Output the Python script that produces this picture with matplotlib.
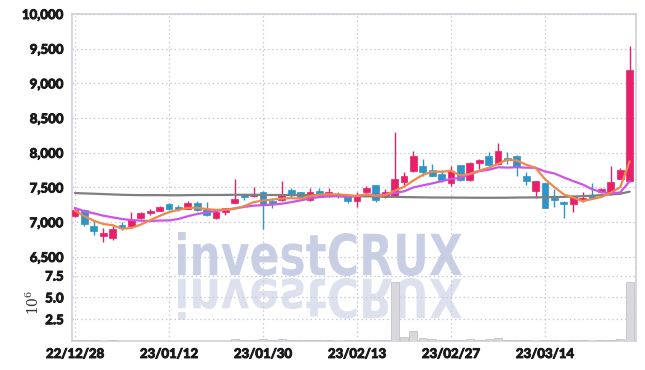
import numpy as np
import pandas as pd
import matplotlib
matplotlib.use('Agg')
import matplotlib.pyplot as plt
from matplotlib.textpath import TextPath
from matplotlib.patches import PathPatch
from matplotlib.font_manager import FontProperties
from matplotlib.transforms import Affine2D
import matplotlib.ticker as mticker
import matplotlib.patheffects as pe

# ---------------- data ----------------
tick_idx = [0, 10, 20, 30, 40, 50]
tick_labels = ['22/12/28', '23/01/12', '23/01/30', '23/02/13', '23/02/27', '23/03/14']

opens = [7095, 7180, 6940, 6800, 6770, 6960, 6940, 7060, 7140, 7165,
         7260, 7215, 7190, 7275, 7190, 7065, 7150, 7275, 7400, 7380,
         7430, 7305, 7325, 7470, 7430, 7325, 7445, 7380, 7410, 7375,
         7300, 7430, 7535, 7370, 7375, 7585, 7735, 7815, 7745, 7690,
         7565, 7825, 7615, 7850, 7950, 7840, 7925, 7960, 7660, 7455,
         7565, 7345, 7280, 7265, 7330, 7370, 7430, 7440, 7625, 7600]
highs = [7200, 7185, 7020, 6910, 6940, 7010, 7140, 7150, 7190, 7230,
         7270, 7245, 7300, 7310, 7285, 7175, 7210, 7620, 7410, 7505,
         7450, 7345, 7590, 7490, 7440, 7490, 7490, 7490, 7430, 7380,
         7430, 7525, 7540, 7480, 8300, 7720, 8025, 7910, 7840, 7745,
         7815, 7830, 7870, 7910, 8010, 8140, 8010, 7965, 7720, 7600,
         7570, 7480, 7310, 7390, 7430, 7565, 7490, 7805, 7780, 9540]
lows = [7080, 6950, 6810, 6710, 6750, 6890, 6930, 7050, 7100, 7160,
        7180, 7165, 7185, 7160, 7090, 7050, 7100, 7270, 7320, 7360,
        6900, 7200, 7310, 7360, 7330, 7310, 7370, 7370, 7350, 7280,
        7215, 7380, 7290, 7350, 7370, 7530, 7720, 7670, 7660, 7575,
        7525, 7600, 7600, 7770, 7820, 7830, 7840, 7660, 7530, 7345,
        7200, 7215, 7055, 7150, 7295, 7340, 7425, 7385, 7620, 7580]
closes = [7180, 6980, 6880, 6845, 6900, 6925, 7030, 7130, 7155, 7215,
          7195, 7190, 7275, 7170, 7110, 7145, 7205, 7335, 7360, 7400,
          7265, 7270, 7405, 7395, 7360, 7440, 7385, 7430, 7390, 7300,
          7390, 7495, 7325, 7440, 7620, 7670, 7950, 7730, 7670, 7615,
          7740, 7610, 7850, 7895, 7825, 8030, 7900, 7790, 7600, 7600,
          7205, 7330, 7270, 7365, 7345, 7355, 7480, 7585, 7750, 9200]
volumes = [0.12, 0.08, 0.06, 0.05, 0.06, 0.04, 0.05, 0.04, 0.03, 0.04,
           0.05, 0.03, 0.05, 0.04, 0.03, 0.03, 0.05, 0.22, 0.10, 0.12,
           0.20, 0.08, 0.18, 0.10, 0.08, 0.10, 0.08, 0.07, 0.05, 0.06,
           0.12, 0.15, 0.10, 0.08, 6.75, 0.45, 1.15, 0.35, 0.20, 0.10,
           0.15, 0.10, 0.20, 0.15, 0.25, 0.40, 0.15, 0.10, 0.08, 0.05,
           0.10, 0.06, 0.05, 0.08, 0.06, 0.05, 0.10, 0.15, 0.20, 6.75]
# moving-average values before enough history is visible
ma5_head = [7166, 7085, 7022, 6974]
ma10_head = [7205, 7157, 7128, 7094, 7070, 7046, 7031, 7022, 7017]
ma_long = [7420, 7415, 7410, 7405, 7400, 7395, 7392, 7390, 7390, 7390,
           7388, 7388, 7390, 7392, 7392, 7392, 7393, 7395, 7395, 7395,
           7393, 7392, 7392, 7390, 7390, 7390, 7388, 7385, 7383, 7380,
           7375, 7372, 7370, 7368, 7365, 7362, 7360, 7358, 7356, 7355,
           7355, 7354, 7353, 7352, 7352, 7352, 7353, 7355, 7356, 7358,
           7360, 7362, 7365, 7370, 7375, 7382, 7390, 7400, 7410, 7440]

# ---------------- derived ----------------
n = len(closes)
x = np.arange(n)
cs = pd.Series(closes, dtype=float)
ma5 = cs.rolling(5).mean().to_numpy()
ma5[:len(ma5_head)] = ma5_head
ma10 = cs.rolling(10).mean().to_numpy()
ma10[:len(ma10_head)] = ma10_head

UP = '#e8206a'
DOWN = '#2e95c8'
LABEL = '#1a1a1a'

W, H = 645, 370
fig = plt.figure(figsize=(W / 100, H / 100), dpi=100)
fig.patch.set_facecolor('white')

L, R, T, MID, B = 72, 636, 14, 268, 341
ax = fig.add_axes([L / W, 1 - MID / H, (R - L) / W, (MID - T) / H])
axv = fig.add_axes([L / W, 1 - B / H, (R - L) / W, (B - MID) / H], sharex=ax)
for a in (ax, axv):
    a.patch.set_visible(False)

tick_font = FontProperties(family=['Lato', 'Roboto', 'DejaVu Sans'], weight='bold', size=9.5)
bold_fx = [pe.withStroke(linewidth=0.7, foreground=LABEL)]

def style_labels(labels):
    for lab in labels:
        lab.set_fontproperties(tick_font)
        lab.set_color(LABEL)
        lab.set_path_effects(bold_fx)

# ---------------- watermark ----------------
wm_fp = FontProperties(family='DejaVu Sans', weight='bold')
tp = TextPath((0, 0), 'investCRUX', size=10, prop=wm_fp)
ext = tp.get_extents()
sx = 284 / ext.width
sy = 44 / ext.height
base_y = H - 276
to_fig = Affine2D().scale(1 / W, 1 / H) + fig.transFigure
tr_main = Affine2D().translate(-ext.x0, -ext.y0).scale(sx, sy).translate(178, base_y) + to_fig
tr_refl = Affine2D().translate(-ext.x0, -ext.y0).scale(sx, -sy * 0.95).translate(178, base_y - 2) + to_fig
wm1 = PathPatch(tp, transform=tr_main, facecolor='#c8cfe4', edgecolor='none', zorder=-1)
wm2 = PathPatch(tp, transform=tr_refl, facecolor='#dde1ee', edgecolor='none', zorder=-1)
fig.add_artist(wm1)
fig.add_artist(wm2)

# ---------------- price panel ----------------
for i in x:
    o, h, l, c = opens[i], highs[i], lows[i], closes[i]
    col = UP if c >= o else DOWN
    ax.vlines(i, l, h, color=col, linewidth=1.0, zorder=3)
    body = max(abs(c - o), 22)
    bottom = min(o, c) if abs(c - o) >= 22 else (o + c) / 2 - 11
    ax.bar(i, body, bottom=bottom, width=0.72, color=col, edgecolor=col, linewidth=0.5, zorder=4)

ax.plot(x, ma_long, color='#7f7f7f', linewidth=1.6, zorder=5, solid_capstyle='round')
ax.plot(x, ma10, color='#cc55e8', linewidth=1.6, zorder=5, solid_joinstyle='round')
ax.plot(x, ma5, color='#f0884a', linewidth=1.6, zorder=6, solid_joinstyle='round')

ax.set_ylim(6340, 10000)
ax.set_xlim(-0.32, 59.68)
ax.set_yticks([6500, 7000, 7500, 8000, 8500, 9000, 9500, 10000])
ax.yaxis.set_major_formatter(mticker.FuncFormatter(lambda v, p: f'{int(v):,}'))
ax.set_xticks(tick_idx)

grid_kw = dict(color='#c6cad6', linestyle=(0, (1.2, 2.2)), linewidth=0.9)
for a in (ax, axv):
    a.grid(True, **grid_kw)
    a.set_axisbelow(True)
    a.tick_params(length=0, pad=6)

ax.tick_params(axis='x', labelbottom=False)
style_labels(ax.get_yticklabels())
for s in ('left', 'top', 'right'):
    ax.spines[s].set_color('#cfd0d8')
    ax.spines[s].set_linewidth(1.2)
ax.spines['bottom'].set_visible(False)

# ---------------- volume panel ----------------
axv.bar(x, volumes, width=0.85, color='#d8d8de', edgecolor='#c2c2ca', linewidth=0.6, zorder=3)
axv.set_ylim(0, 8.37)
axv.set_yticks([2.5, 5.0, 7.5])
axv.yaxis.set_major_formatter(mticker.FormatStrFormatter('%.1f'))
axv.set_xticks(tick_idx)
axv.set_xticklabels(tick_labels)
style_labels(axv.get_yticklabels())
style_labels(axv.get_xticklabels())
axv.tick_params(axis='x', pad=5)
axv.spines['top'].set_visible(False)
for s in ('left', 'right', 'bottom'):
    axv.spines[s].set_color('#cfd0d8')
    axv.spines[s].set_linewidth(1.2)

fig.text(33 / W, 1 - 302 / H, r'$10^6$', rotation=90, ha='center', va='center',
         fontsize=10, family='DejaVu Serif', color='#333333', math_fontfamily='dejavuserif')

fig.savefig('out.png', dpi=100, facecolor='white')
